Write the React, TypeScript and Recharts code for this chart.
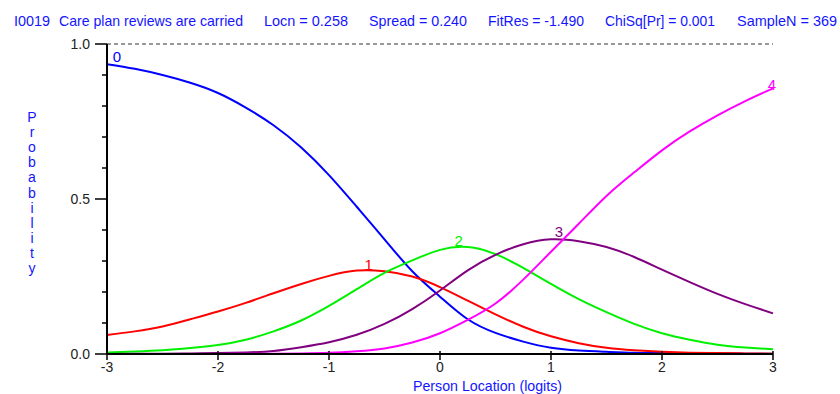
import React from 'react';
import { LineChart, Line, XAxis, YAxis, ReferenceLine, LabelList } from 'recharts';

// person location (logits) sampled every 0.25
const locations = [-3, -2.75, -2.5, -2.25, -2, -1.75, -1.5, -1.25, -1, -0.75, -0.5, -0.25, 0, 0.25, 0.5, 0.75, 1, 1.25, 1.5, 1.75, 2, 2.25, 2.5, 2.75, 3];

// category probability curves
const cat0 = [0.935, 0.92, 0.9, 0.875, 0.842, 0.795, 0.738, 0.666, 0.577, 0.475, 0.37, 0.267, 0.185, 0.112, 0.068, 0.04, 0.02, 0.011, 0.007, 0.004, 0.003, 0.002, 0.002, 0.001, 0.001];
const cat1 = [0.061, 0.073, 0.089, 0.112, 0.137, 0.165, 0.196, 0.226, 0.252, 0.269, 0.267, 0.25, 0.216, 0.172, 0.128, 0.088, 0.057, 0.035, 0.02, 0.012, 0.007, 0.004, 0.003, 0.002, 0.001];
const cat2 = [0.005, 0.008, 0.012, 0.019, 0.029, 0.046, 0.073, 0.108, 0.155, 0.209, 0.262, 0.302, 0.336, 0.345, 0.322, 0.278, 0.226, 0.177, 0.135, 0.097, 0.067, 0.046, 0.03, 0.021, 0.015];
const cat3 = [0.0, 0.001, 0.001, 0.002, 0.003, 0.005, 0.01, 0.022, 0.038, 0.062, 0.097, 0.145, 0.205, 0.27, 0.32, 0.354, 0.37, 0.364, 0.345, 0.313, 0.272, 0.232, 0.194, 0.161, 0.131];
const cat4 = [0, 0, 0, 0, 0, 0.001, 0.001, 0.002, 0.004, 0.009, 0.018, 0.037, 0.067, 0.11, 0.163, 0.24, 0.33, 0.42, 0.51, 0.586, 0.657, 0.718, 0.77, 0.816, 0.857];

const xTicks = [-3, -2, -1, 0, 1, 2, 3];
const yTicks = [0, 0.1, 0.2, 0.3, 0.4, 0.5, 0.6, 0.7, 0.8, 0.9, 1];
const yLabelled = ['0.0', '0.5', '1.0'];

const yTitle = 'Probability';
const header = [
    { text: 'I0019', x: 14, w: 36 },
    { text: 'Care plan reviews are carried', x: 59, w: 184 },
    { text: 'Locn = 0.258', x: 264, w: 84 },
    { text: 'Spread = 0.240', x: 369, w: 98 },
    { text: 'FitRes = -1.490', x: 488, w: 96 },
    { text: 'ChiSq[Pr] = 0.001', x: 605, w: 110 },
    { text: 'SampleN = 369', x: 737, w: 100 },
];

const data = locations.map((x, i) => ({
    x,
    c0: cat0[i],
    c1: cat1[i],
    c2: cat2[i],
    c3: cat3[i],
    c4: cat4[i],
}));

const FONT = '"Liberation Sans", Arial, sans-serif';
const BLUE = '#1414ff';

const series = [
    { key: 'c0', vals: cat0, color: '#0000ff', dx: 10, dy: -2 },
    { key: 'c1', vals: cat1, color: '#ff0000', dx: 12, dy: -1 },
    { key: 'c2', vals: cat2, color: '#00f000', dx: -9, dy: -1 },
    { key: 'c3', vals: cat3, color: '#800080', dx: 8, dy: -2 },
    { key: 'c4', vals: cat4, color: '#ff00ff', dx: -1, dy: 2 },
];

// label each curve with its category number at its peak
const peakLabel = (vals: number[], text: string, color: string, dx: number, dy: number) => (props: any) => {
    const peak = vals.indexOf(Math.max(...vals));
    if (props.index !== peak) return null;
    return (
        <text x={props.x + dx} y={props.y + dy} textAnchor="middle" fill={color} fontSize={15} fontFamily={FONT}>
            {text}
        </text>
    );
};

const XTick = (props: any) => {
    const { x, y, payload } = props;
    return (
        <g>
            <line x1={x} x2={x} y1={y - 3} y2={y + 6} stroke="#000" strokeWidth={1.5} />
            <text x={x} y={y + 18} textAnchor="middle" fill="#222" fontSize={14} fontFamily={FONT}>
                {payload.value}
            </text>
        </g>
    );
};

const YTick = (props: any) => {
    const { x, y, payload } = props;
    const label = payload.value.toFixed(1);
    const major = yLabelled.includes(label);
    return (
        <g>
            <line x1={x - (major ? 12 : 5)} x2={x} y1={y} y2={y} stroke="#000" strokeWidth={1.5} />
            {major && (
                <text x={x - 17} y={y + 5} textAnchor="end" fill="#222" fontSize={14} fontFamily={FONT}>
                    {label}
                </text>
            )}
        </g>
    );
};

export default function App() {
    return (
        <div style={{ position: 'absolute', left: 0, top: 0, width: 840, height: 394, background: '#fff' }}>
            <LineChart width={840} height={394} data={data} margin={{ top: 44, right: 67, left: 47, bottom: 10 }}>
                <XAxis
                    dataKey="x"
                    type="number"
                    domain={[-3, 3]}
                    ticks={xTicks}
                    height={30}
                    tickSize={0}
                    tickMargin={0}
                    tickLine={false}
                    tick={<XTick />}
                    axisLine={{ stroke: '#000', strokeWidth: 2 }}
                />
                <YAxis
                    type="number"
                    domain={[0, 1]}
                    ticks={yTicks}
                    width={60}
                    tickSize={0}
                    tickMargin={0}
                    tickLine={false}
                    tick={<YTick />}
                    axisLine={{ stroke: '#000', strokeWidth: 2 }}
                />
                <ReferenceLine y={1} stroke="#333" strokeDasharray="4 3" />
                {series.map((s, i) => (
                    <Line
                        key={s.key}
                        dataKey={s.key}
                        type="natural"
                        stroke={s.color}
                        strokeWidth={2}
                        dot={false}
                        isAnimationActive={false}
                    >
                        <LabelList dataKey={s.key} content={peakLabel(s.vals, String(i), s.color, s.dx, s.dy)} />
                    </Line>
                ))}
            </LineChart>
            <svg width={840} height={394} style={{ position: 'absolute', left: 0, top: 0, pointerEvents: 'none' }}>
                {header.map((h) => (
                    <text key={h.text} x={h.x} y={26} fill={BLUE} fontSize={15} fontFamily={FONT} textLength={h.w} lengthAdjust="spacingAndGlyphs">
                        {h.text}
                    </text>
                ))}
                {yTitle.split('').map((ch, i) => (
                    <text key={i} x={32} y={122 + i * 15.1} textAnchor="middle" fill={BLUE} fontSize={14} fontFamily={FONT}>
                        {ch}
                    </text>
                ))}
                <text x={413} y={391} fill={BLUE} fontSize={15} fontFamily={FONT} textLength={149} lengthAdjust="spacingAndGlyphs">
                    Person Location (logits)
                </text>
            </svg>
        </div>
    );
}
